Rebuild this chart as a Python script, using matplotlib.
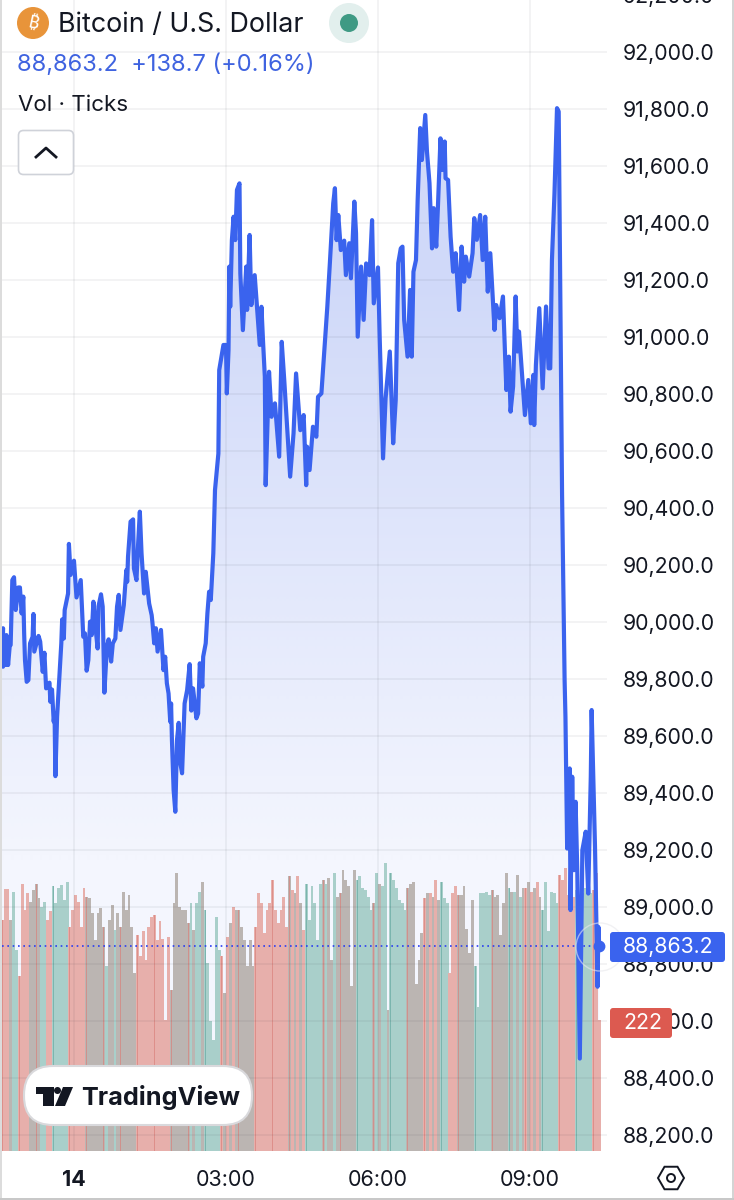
import numpy as np
import matplotlib
matplotlib.use('Agg')
import matplotlib.pyplot as plt
from matplotlib.colors import LinearSegmentedColormap
from matplotlib.patches import Circle, FancyBboxPatch, Polygon, RegularPolygon

plt.rcParams['font.family'] = ['Inter', 'DejaVu Sans']

# minutes from 00:00 on the 14th, and the price at each of them
minutes = [-86, -84, -84, -82, -80, -80, -78, -76, -75, -73, -71, -69, -66, -64, -62, -60, -59, -58, -56, -54,
           -52, -49, -48, -47, -42, -40, -37, -35, -33, -29, -28, -26, -24, -23, -22, -20, -15, -14, -12, -11,
           -7, -6, -4, 0, 3, 8, 11, 13, 15, 17, 19, 21, 23, 26, 28, 29, 32, 34, 36, 39,
           41, 44, 46, 49, 51, 53, 55, 59, 62, 63, 64, 67, 70, 71, 74, 76, 78, 80, 83, 85,
           89, 92, 93, 95, 97, 99, 103, 106, 108, 110, 112, 114, 115, 116, 118, 120, 122, 124, 126, 128,
           131, 134, 137, 139, 141, 145, 147, 149, 152, 153, 156, 158, 160, 162, 165, 167, 171, 172, 177, 180,
           181, 183, 184, 185, 187, 189, 191, 193, 196, 197, 200, 204, 205, 208, 210, 214, 220, 222, 224, 226,
           227, 231, 234, 238, 243, 246, 249, 256, 260, 263, 268, 272, 275, 276, 279, 283, 287, 289, 293, 297,
           300, 303, 307, 309, 311, 313, 316, 320, 322, 326, 328, 332, 334, 336, 340, 343, 346, 350, 353, 355,
           360, 362, 366, 369, 371, 374, 378, 381, 384, 387, 389, 391, 395, 398, 400, 402, 405, 407, 410, 412,
           416, 418, 421, 424, 426, 429, 431, 434, 436, 439, 440, 443, 446, 449, 452, 456, 459, 462, 464, 468,
           472, 474, 477, 481, 484, 487, 490, 493, 498, 500, 504, 508, 512, 515, 517, 520, 523, 525, 527, 534,
           538, 541, 544, 545, 547, 551, 555, 559, 562, 564, 566, 569, 572, 574, 578, 581, 582, 584, 587, 588,
           590, 592, 594, 596, 599, 602, 606, 609, 612, 613, 617, 620, 621, 622]
price = [89880, 89978, 89843, 89937, 89849, 89954, 89849, 89919, 89919, 90147, 90157, 90042, 90121, 90121, 90030, 90089, 89960, 89866, 89790, 89796,
         89925, 89948, 90028, 89896, 89951, 89931, 89825, 89892, 89767, 89787, 89720, 89763, 89650, 89679, 89459, 89668, 89925, 90009, 89942, 90042,
         90100, 90274, 90165, 90215, 90086, 90147, 89948, 89960, 89829, 89866, 90001, 89954, 90071, 89966, 89907, 90054, 90097, 90054, 89752, 89913,
         89939, 89861, 89925, 89942, 90054, 90095, 89972, 90059, 90182, 90141, 90229, 90352, 90360, 90188, 90147, 90276, 90387, 90241, 90100, 90176,
         90065, 90024, 89995, 89925, 89978, 89896, 89972, 89831, 89878, 89785, 89749, 89650, 89714, 89586, 89410, 89334, 89586, 89646, 89504, 89469,
         89714, 89761, 89852, 89689, 89767, 89662, 89679, 89855, 89773, 89878, 89925, 90030, 90106, 90077, 90241, 90463, 90591, 90884, 90972, 90972,
         90802, 90954, 91247, 91106, 91340, 91422, 91340, 91516, 91539, 91223, 91024, 91247, 91095, 91358, 91112, 91217, 90972, 91106, 90978, 90861,
         90480, 90878, 90720, 90767, 90580, 90983, 90849, 90510, 90662, 90872, 90673, 90726, 90480, 90615, 90533, 90685, 90650, 90790, 90802, 90978,
         91106, 91258, 91469, 91522, 91340, 91428, 91305, 91338, 91217, 91329, 91206, 91475, 91364, 91001, 91247, 91060, 91258, 91217, 91410, 91118,
         91244, 91001, 90574, 90785, 90849, 90949, 90627, 90779, 91259, 91311, 91317, 91060, 90931, 91165, 90931, 91229, 91270, 91481, 91733, 91621,
         91779, 91651, 91540, 91311, 91452, 91317, 91458, 91697, 91586, 91686, 91557, 91551, 91352, 91229, 91294, 91095, 91317, 91194, 91282, 91212,
         91294, 91417, 91341, 91428, 91270, 91422, 91159, 91294, 91025, 91112, 91066, 91142, 90814, 90931, 90738, 90826, 91142, 90949, 91019, 90726,
         90849, 90697, 90867, 90691, 90902, 91101, 90820, 91107, 90890, 90890, 91270, 91504, 91803, 91791, 90445, 89796, 89667, 89205, 89486, 88989,
         89457, 89129, 89369, 89129, 88468, 89199, 89264, 89047, 89457, 89691, 89211, 88720, 88930, 88863.2]

# tick volume, one value per 3 1/3 minutes
volume = [390, 442, 442, 390, 438, 340, 295, 451, 407, 436, 421, 441, 452, 427, 413, 421, 390, 405, 447, 419,
          444, 450, 424, 455, 379, 407, 433, 421, 379, 444, 430, 427, 402, 357, 402, 410, 379, 312, 390, 416,
          374, 402, 379, 438, 407, 433, 379, 300, 365, 329, 371, 323, 379, 396, 399, 357, 388, 359, 222, 362,
          272, 419, 469, 413, 407, 407, 385, 419, 374, 419, 438, 455, 407, 317, 219, 188, 396, 340, 329, 267,
          362, 385, 413, 407, 407, 379, 357, 312, 357, 312, 379, 436, 419, 368, 407, 419, 458, 407, 385, 407,
          430, 379, 464, 441, 436, 464, 419, 374, 452, 390, 447, 419, 357, 452, 458, 452, 461, 323, 469, 430,
          436, 475, 458, 447, 278, 475, 458, 464, 444, 441, 430, 407, 419, 469, 452, 447, 486, 238, 469, 458,
          444, 424, 419, 407, 444, 452, 455, 283, 323, 368, 427, 436, 436, 430, 458, 424, 455, 427, 419, 300,
          436, 447, 433, 433, 447, 376, 334, 424, 312, 244, 436, 436, 438, 433, 441, 430, 433, 365, 419, 469,
          444, 438, 438, 467, 430, 444, 444, 455, 438, 444, 455, 430, 407, 455, 371, 438, 436, 419, 467, 458,
          478, 433, 438, 430, 441, 424, 436, 444, 438, 436, 441, 469, 222]
# d = down, u = up, n = mixed slot
bar_side = ('dddnuu' 'ddddnn' 'nnuudd' 'uuuuuu' 'dddddd' 'nnnnnn' 'nunnun' 'nnnnnn' 'dddddd' 'dddddd'
            'nnnnnn' 'nunuun' 'uuuuuu' 'dndndn' 'nnnnnn' 'dddddd' 'dddddd' 'ndndnd' 'uuuuuu' 'nunnun'
            'nnnnnn' 'uuuuuu' 'nunuun' 'uuuuuu' 'nnnnnn' 'dndndn' 'uuuddd' 'nnnnnn' 'uuuuuu' 'nnnnnn'
            'ununun' 'dndndn' 'uuuuuu' 'dddddd' 'uuuuuu' 'ddd')

price_ticks = [88200 + 200 * i for i in range(21)]
time_ticks = [0, 180, 360, 540]
time_labels = ['14', '03:00', '06:00', '09:00']

bar_step = 10 / 3
bar_start = -84.8
last_price = price[-1]
last_volume = volume[-1]

W, H = 734, 1200
BLUE = '#3a63ee'

fig = plt.figure(figsize=(W / 100, H / 100), dpi=100, facecolor='white')
pos = [0, (H - 1151) / H, 607 / W, 1161 / H]
xlim = (-87.6, 631.2)
ylim = (88143.6, 92217.6)

# gradient under the line, darkest at the top
fill_ax = fig.add_axes(pos, zorder=0)
cmap = LinearSegmentedColormap.from_list('area', ['#d0d9f9', '#f4f6fe'])
poly = fill_ax.fill_between(minutes, price, ylim[0], color='none', linewidth=0)
im = fill_ax.imshow([[0], [1]], extent=(xlim[0], xlim[1], ylim[0], ylim[1]),
                    origin='upper', aspect='auto', cmap=cmap, interpolation='bilinear')
im.set_clip_path(poly.get_paths()[0], transform=fill_ax.transData)
fill_ax.set_xlim(xlim)
fill_ax.set_ylim(ylim)
fill_ax.axis('off')

# volume bars
vol_ax = fig.add_axes(pos, zorder=1)
vol_ax.patch.set_visible(False)
bar_x = bar_start + np.arange(len(volume)) * bar_step
side_colors = {'d': '#e7afab', 'u': '#a9cfca', 'n': '#bbb5b2'}
line_colors = {'d': '#dd8f8a', 'u': '#7bb5ae', 'n': '#cf918c'}
vol_ax.bar(bar_x, volume, width=bar_step * 1.02, color=[side_colors[s] for s in bar_side], linewidth=0)
vol_ax.bar(bar_x[::6], volume[::6], width=bar_step * 0.36, color=[line_colors[s] for s in bar_side[::6]], linewidth=0)
vol_ax.set_xlim(xlim)
vol_ax.set_ylim(0, 1962)
vol_ax.axis('off')

# price line, grid and scales
ax = fig.add_axes(pos, zorder=2)
ax.patch.set_visible(False)
ax.grid(True, color='#2a2e39', alpha=0.07, linewidth=1.1)
ax.set_axisbelow(True)
ax.plot(minutes, price, color=BLUE, linewidth=3, solid_joinstyle='round', zorder=4)
ax.plot([bar_start, minutes[-1]], [last_price, last_price], color='#2a3df0', linewidth=1.2,
        linestyle=(0, (1, 2.2)), zorder=3)
ax.plot(minutes[-1], last_price, 'o', color=BLUE, markersize=7.5, zorder=5)
ax.set_xlim(xlim)
ax.set_ylim(ylim)
ax.set_yticks(price_ticks)
ax.set_yticklabels([f'{v:,.1f}' for v in price_ticks])
ax.yaxis.tick_right()
ax.set_xticks(time_ticks)
ax.set_xticklabels(time_labels)
ax.get_xticklabels()[0].set_fontweight('bold')
ax.tick_params(axis='y', length=0, pad=11.5, labelsize=15.3, labelcolor='#131722')
ax.tick_params(axis='x', length=0, pad=14, labelsize=15.5, labelcolor='#131722')
for s in ax.spines.values():
    s.set_visible(False)

# everything that sits on top, in pixels
top = fig.add_axes([0, 0, 1, 1], zorder=5)
top.set_xlim(0, W)
top.set_ylim(H, 0)
top.axis('off')
top.patch.set_visible(False)

top.add_patch(Circle((33, 23), 16, color='#e8943a', linewidth=0))
top.text(33, 23.5, '₿', color='white', fontsize=13.5, fontweight='bold', family=['Noto Sans', 'Roboto', 'Open Sans', 'Liberation Sans'],
         ha='center', va='center', rotation=-12)
top.text(58, 25, 'Bitcoin / U.S. Dollar', color='#131722', fontsize=19.3, va='center')
top.add_patch(Circle((349, 23), 20, color='#e2efed', linewidth=0))
top.add_patch(Circle((349, 23), 9, color='#3f9a84', linewidth=0))
top.text(17, 65, '88,863.2  +138.7 (+0.16%)', color='#3f63e0', fontsize=17, va='center')
top.text(18, 105, 'Vol · Ticks', color='#131722', fontsize=16.1, va='center')

top.add_patch(FancyBboxPatch((18.5, 130.5), 55, 44, boxstyle='round,pad=0,rounding_size=5',
                             facecolor='white', edgecolor='#cfd2d9', linewidth=1.2))
top.plot([36, 46, 56], [157, 148, 157], color='#131722', linewidth=2)

# watermark ring behind the last point
top.add_patch(Circle((600, 947), 24, facecolor='none', edgecolor='#e8e8ec', linewidth=1, alpha=0.6))

# TradingView badge
top.add_patch(FancyBboxPatch((24, 1066), 228, 59, boxstyle='round,pad=0,rounding_size=29',
                             facecolor='white', edgecolor='#d9d9dc', linewidth=1.5))
top.add_patch(Polygon([(36, 1087), (54, 1087), (54, 1106), (43, 1106), (43, 1094), (36, 1094)], color='#131722', linewidth=0))
top.add_patch(Circle((57.5, 1090.5), 3.5, color='#131722', linewidth=0))
top.add_patch(Polygon([(63, 1087), (73, 1087), (65, 1106), (55, 1106)], color='#131722', linewidth=0))
top.text(81, 1097, 'TradingView', color='#131722', fontsize=18.2, fontweight='bold', va='center')

# last price and volume tags
top.add_patch(FancyBboxPatch((610, 932), 115, 30, boxstyle='round,pad=0,rounding_size=3',
                             facecolor=BLUE, edgecolor='none'))
top.text(623, 947, f'{last_price:,.1f}', color='white', fontsize=15.3, va='center')
top.add_patch(FancyBboxPatch((610, 1008), 62, 30, boxstyle='round,pad=0,rounding_size=3',
                             facecolor='#dc5a50', edgecolor='none'))
top.text(623, 1023, f'{last_volume}', color='white', fontsize=15.3, va='center')

# settings icon
top.add_patch(RegularPolygon((671, 1178), 6, radius=13, orientation=np.pi / 2, facecolor='none',
                             edgecolor='#131722', linewidth=1.4))
top.add_patch(Circle((671, 1178), 4, facecolor='none', edgecolor='#131722', linewidth=1.4))

# screenshot edges
top.add_patch(plt.Rectangle((0, 0), 2, H, color='#dcdcdc', linewidth=0))
top.add_patch(plt.Rectangle((732, 0), 2, H, color='#d4d4d4', linewidth=0))
top.add_patch(plt.Rectangle((0, 1198), W, 2, color='#c8c8c8', linewidth=0))

fig.savefig('out.png', dpi=100)
